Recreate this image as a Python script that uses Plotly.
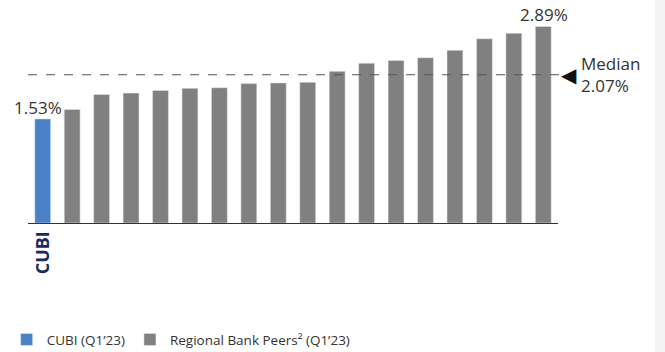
import plotly.graph_objects as go

# Data
cubi_label = ["CUBI"]
cubi_values = [1.53]
peer_labels = [f"Peer {i}" for i in range(1, 18)]
peer_values = [1.67, 1.89, 1.91, 1.95, 1.98, 1.99, 2.05, 2.06, 2.07,
               2.23, 2.35, 2.39, 2.43, 2.54, 2.71, 2.79, 2.89]
median_value = 2.07
median_line_level = 2.18  # where the dashed line sits in the source picture
legend_names = ["CUBI (Q1’23)", "Regional Bank Peers² (Q1’23)"]

FONT = "Open Sans"
BLUE = "#4a80c6"
GRAY = "#808080"
NAVY = "#1c2a5c"

fig = go.Figure()
fig.add_trace(go.Bar(x=cubi_label, y=cubi_values, name=legend_names[0],
                     marker_color=BLUE, width=0.54))
fig.add_trace(go.Bar(x=peer_labels, y=peer_values, name=legend_names[1],
                     marker_color=GRAY, width=0.54))

all_cats = cubi_label + peer_labels

fig.add_shape(type="line", xref="paper", yref="y", x0=0, x1=1.005,
              y0=median_line_level, y1=median_line_level,
              line=dict(color="#555555", width=1, dash="dash"))

# right-side light strip
fig.add_shape(type="rect", xref="paper", yref="paper", x0=1.183, x1=1.25,
              y0=-1, y1=2, fillcolor="#f3f3f3", line_width=0, layer="below")

fig.add_annotation(x=cubi_label[0], y=cubi_values[0], text=f"{cubi_values[0]:.2f}%",
                   showarrow=False, xanchor="center", yanchor="bottom",
                   xshift=-5, yshift=-2, font=dict(family=FONT, size=17, color="#333333"))
fig.add_annotation(x=peer_labels[-1], y=peer_values[-1], text=f"{peer_values[-1]:.2f}%",
                   showarrow=False, xanchor="center", yanchor="bottom",
                   xshift=1, yshift=-2, font=dict(family=FONT, size=17, color="#333333"))
fig.add_annotation(xref="paper", x=1, y=median_line_level, text="◀",
                   showarrow=False, xanchor="left", yanchor="middle",
                   xshift=1, font=dict(family="DejaVu Sans", size=20, color="#111111"))
fig.add_annotation(xref="paper", x=1, y=median_line_level,
                   text=f"Median<br>{median_value:.2f}%",
                   showarrow=False, xanchor="left", yanchor="middle", align="left",
                   xshift=21, font=dict(family=FONT, size=17, color="#333333"))

fig.update_layout(
    width=665, height=352,
    margin=dict(l=28, r=107, t=19, b=129, autoexpand=False),
    paper_bgcolor="white", plot_bgcolor="white",
    barmode="overlay",
    showlegend=True,
    legend=dict(orientation="h", xref="container", x=0.01, xanchor="left",
                yref="container", y=0.035, yanchor="middle",
                font=dict(family=FONT, size=13.5, color="#333333"),
                itemclick=False),
    xaxis=dict(categoryorder="array", categoryarray=all_cats,
               range=[-0.5, len(all_cats) - 0.5],
               tickmode="array", tickvals=cubi_label, ticktext=["<b>CUBI</b>"],
               tickangle=-90, tickfont=dict(family=FONT, size=18, color=NAVY),
               showline=True, linecolor="#333333", linewidth=1,
               ticks="", showgrid=False, automargin=False),
    yaxis=dict(range=[0, 3], visible=False, showgrid=False, zeroline=False),
)

fig.write_html("out.html")
